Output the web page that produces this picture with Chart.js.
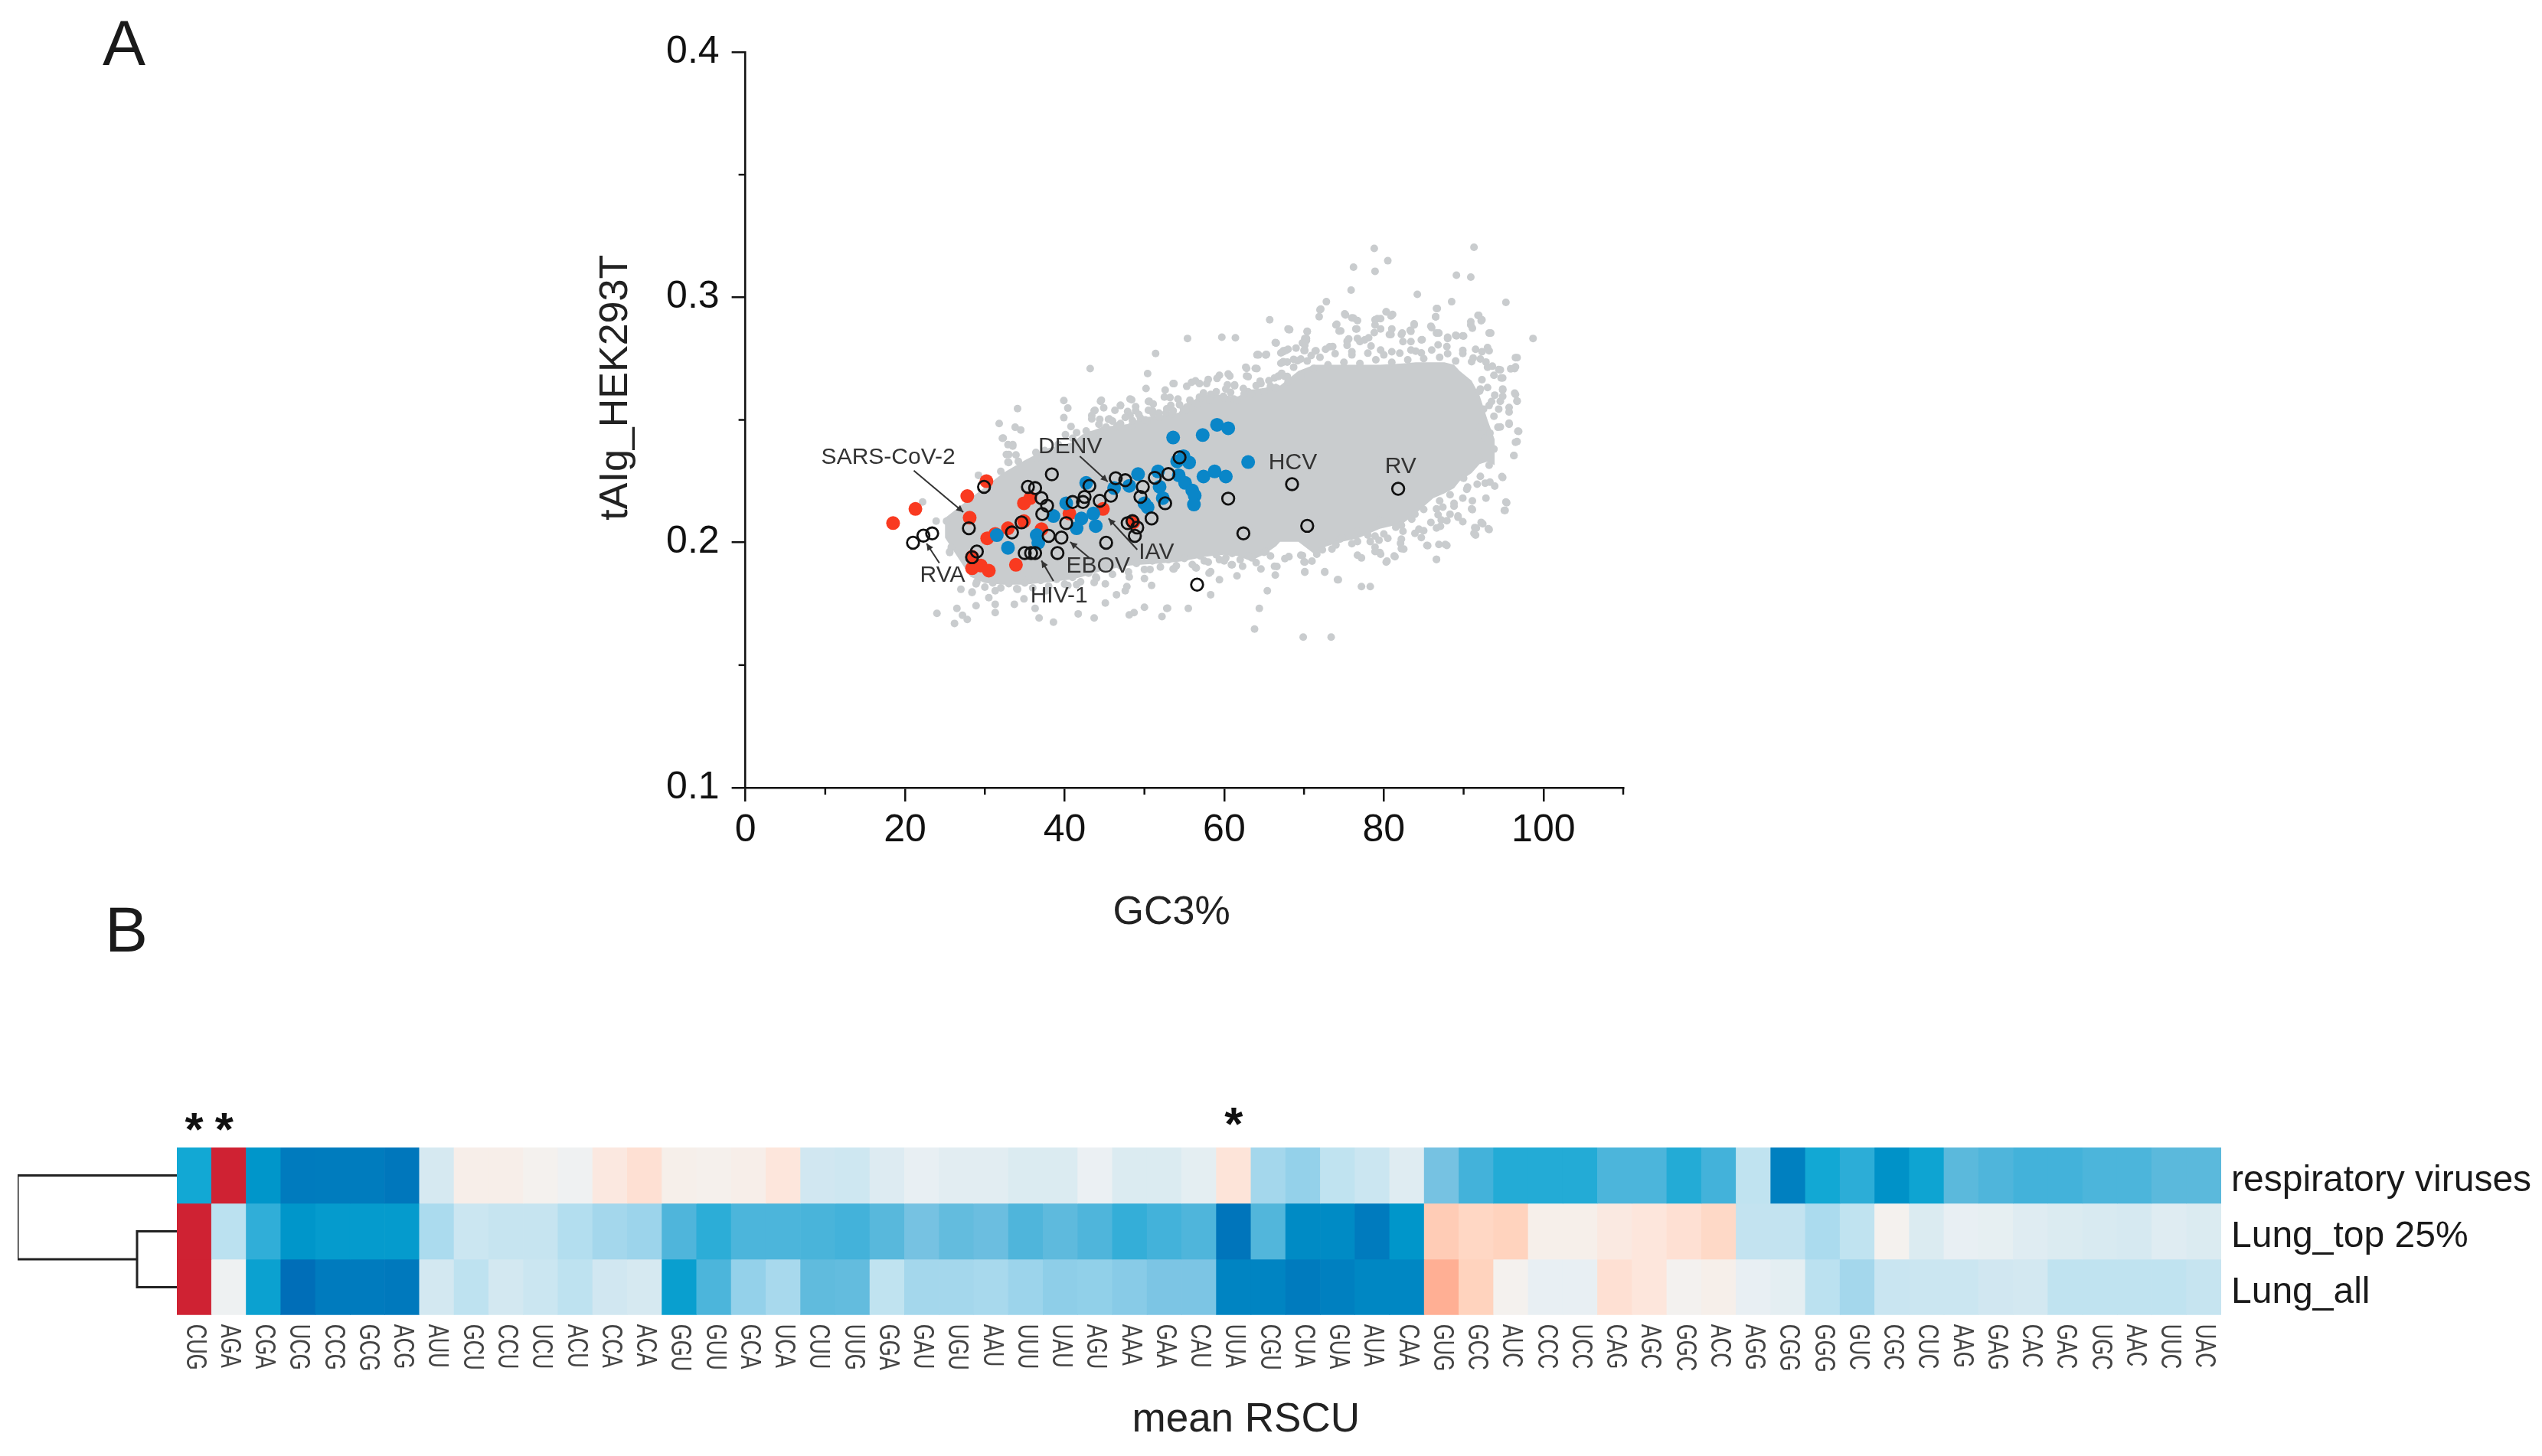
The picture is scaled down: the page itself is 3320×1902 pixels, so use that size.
<!DOCTYPE html>
<html>
<head>
<meta charset="utf-8">
<title>tAI and RSCU</title>
<script src="https://cdn.jsdelivr.net/npm/chart.js@4"></script>
<style>
html, body { margin: 0; padding: 0; background: #fff; }
body { position: relative; width: 3320px; height: 1902px; overflow: hidden; font-family: "Liberation Sans", Arial, sans-serif; color: #1a1a1a; }
canvas { position: absolute; }
.panel { position: absolute; font-size: 84px; line-height: 84px; }
</style>
</head>
<body>
<div class="panel" style="left:134px;top:14px">A</div>
<div class="panel" style="left:137px;top:1172px">B</div>
<canvas id="scatterCanvas" width="1500" height="1200" style="left:740px;top:22px"></canvas>
<canvas id="dendroCanvas" width="231" height="219" style="left:0;top:1499px"></canvas>
<canvas id="heatCanvas" width="3089" height="482" style="left:231px;top:1420px"></canvas>
<script>
const xTicks = [0, 20, 40, 60, 80, 100];
const yTicks = [0.1, 0.2, 0.3, 0.4];
const xMinorTicks = [10, 30, 50, 70, 90, 110];
const yMinorTicks = [0.15, 0.25, 0.35];

// dense part of the human gene cloud, top and bottom edge
const cloudGC = [25, 28.2, 30, 32.3, 35, 38, 41, 42.2, 44.7, 47.9, 49.8, 52, 54.3, 55, 57.5, 58.4, 60, 61.7, 63.3, 65.1, 66.5, 67, 69.3, 71.3, 72.8, 74.7, 76.7, 79.5, 82.4, 84, 86.2, 87.6, 88.8, 89.5, 91, 92, 93, 93.9];
const cloudTop = [.2100, .2181, .2225, .2284, .2335, .2385, .2409, .2440, .2471, .2483, .2510, .2518, .2530, .2565, .2600, .2607, .2600, .2595, .2623, .2630, .2648, .2640, .2700, .2725, .2725, .2725, .2725, .2725, .2730, .2735, .2735, .2735, .2725, .2700, .2660, .2600, .2500, .2420];
const cloudBottom = [.2020, .1860, .1835, .1828, .1828, .1838, .1850, .1860, .1885, .1905, .1910, .1915, .1922, .1925, .1941, .1945, .1950, .1945, .1925, .1953, .1985, .2003, .2003, .1953, .1984, .2003, .2016, .2056, .2078, .2118, .2181, .2200, .2221, .2250, .2283, .2320, .2330, .2315];

// single genes outside the dense part
const grayPoints = [
  [78.8,.3199],[91.3,.3204],[80.5,.3149],[76.2,.3123],[78.9,.3106],[89.1,.3090],[90.9,.3082],[75.9,.3029],[84.2,.3012],[88.5,.2982],
  [95.3,.2979],[72.8,.2982],[86.6,.2954],[72,.2949],[86.5,.2921],[71.9,.2921],[65.7,.2908],[75.1,.2932],[76.2,.2915],[80.3,.2940],
  [80.9,.2924],[79.2,.2913],[78.9,.2887],[83.8,.2887],[91.8,.2926],[92.2,.2904],[90.9,.2887],[74,.2887],[74.4,.2862],[76.5,.2871],
  [68.2,.2868],[70.4,.2860],[86,.2876],[83.3,.2865],[80.9,.2848],[82.2,.2848],[86.6,.2854],[93.2,.2854],[89.1,.2843],[89.9,.2843],
  [98.7,.2832],[88,.2832],[70.1,.2832],[55.4,.2832],[59.7,.2837],[61.4,.2835],[66.4,.2815],[84.7,.2826],[77.6,.2826],[75.4,.2821],
  [70.1,.2804],[96.5,.2754],[96.4,.2709],[94.6,.2704],[94.9,.2671],[96.4,.2609],[96.7,.2576],[94.9,.2626],[95.7,.2551],[95.7,.2487],
  [96.8,.2454],[96.5,.2409],[96.3,.2354],[94.9,.2265],[95.3,.2165],[95.1,.2131],[92.8,.2181],[91,.2137],[92.4,.2076],[91.3,.2037],
  [93.2,.2053],[89.3,.2103],[86.6,.2137],[87.2,.2092],[85.5,.1987],[86.6,.1931],[87.7,.1992],[82.2,.1975],[81.4,.1942],[79.5,.1959],
  [80.3,.1920],[77.2,.1937],[77.2,.1820],[78.3,.1820],[74.2,.1848],[72.6,.1881],[70.1,.1881],[70.1,.1920],[68.1,.1942],[66.3,.1903],
  [64.6,.1892],[65.4,.1803],[64.4,.1731],[63.8,.1647],[69.9,.1614],[73.4,.1614],[61,.1909],[59.4,.1848],[58.3,.1881],[58.3,.1787],
  [55.5,.1731],[52.8,.1731],[52.2,.1698],[50,.1736],[48.7,.1714],[48.1,.1705],[50.9,.1825],[47.6,.1803],[46.5,.1787],[45.1,.1753],
  [45.1,.1831],[43.7,.1692],[41.7,.1709],[38.6,.1675],[36.8,.1692],[36.3,.1731],[33.7,.1748],[34.9,.1770],[31.3,.1714],[31.3,.1748],
  [30.5,.1775],[28.9,.1742],[27.8,.1686],[27.2,.1703],[26.2,.1670],[26.5,.1731],[24,.1711],[28.4,.1798],[27,.1809],[31.3,.1803],
  [34.1,.1809],[35.5,.1848],[28.9,.1831],[25.6,.1959],[25.8,.1981],[53.6,.1892],[56.4,.1898],[50,.1853],[47.8,.1820],[43.2,.2709],
  [51.4,.2771],[50.4,.2689],[50.2,.2628],[53.6,.2648],[34.1,.2546],[31.8,.2485],[33.8,.2470],[34.5,.2459],[39.9,.2579],[40.4,.2548],
  [39.9,.2509],[40.8,.2473],[32.3,.2426],[33.5,.2393],[33,.2359],[33,.2326],[43.7,.2537],[43.4,.2504],[44.5,.2576],[45.6,.2504],
  [47,.2559],[48.4,.2582],[48.9,.2537],[50.6,.2576],[51.1,.2526],[52.5,.2593],[53.3,.2559],[55.3,.2637],[56.4,.2659],[58,.2665],
  [59.4,.2682],[56.9,.2593],[58.3,.2604],[60.5,.2687],[62.7,.2715],[64.1,.2709],[63,.2676],[64.1,.2765],[65.2,.2765],[67.4,.2782],
  [69,.2793],[67.4,.2737],[69.6,.2748],[71.5,.2782],[73.2,.2798],[76.7,.2832],[61.3,.2643],[63,.2615],[60.2,.2626],[64.6,.2648],
  [66.3,.2671],[46.5,.2470],[50.3,.2493],[53.6,.2537],[55.8,.2548],[93.2,.2782],[92.1,.2748],[93,.2715],[93.8,.2682],[89.9,.2771],
  [91,.2737],[94.6,.2576],[93.2,.2559],[92.1,.2626],[93.8,.2515],[94.3,.2470],[92.7,.2426],[93.8,.2381],[91.9,.2348],[93.2,.2315],
  [92.1,.2270],[90.5,.2226],[92.7,.2242],[89.9,.2181],[88.8,.2148],[91.6,.2059],[76.7,.2048],[79.5,.2092],[82.2,.2070],[83.9,.2115],
  [85,.2048],[82.2,.2014],[78.9,.2026],[74.5,.2014],[72.3,.1970],[69.6,.1948],[65.2,.1964],[63.5,.1937],[60.2,.1937],[57.5,.1925],
  [48.1,.1859],[43.7,.1837],[40.4,.1825],[37.7,.1803],[76.7,.1948],[78.9,.1981],[83.9,.2037],[86.6,.2059],[88.3,.2115]
];
// dots hugging the edge of the dense part
const grayEdgePoints = [
  [53.7,.2648],[52.6,.2622],[53.2,.2591],[54.2,.2585],[55.9,.2653],[56.9,.2648],[57.8,.2648],[59.1,.2669],[60.7,.2679],[60.4,.2643],
  [61.3,.2639],[62.8,.2710],[62.8,.2679],[63.9,.2710],[64.2,.2767],[65.3,.2767],[66.5,.2814],[68,.2871],[70.4,.2861],[70.3,.2824],
  [67.4,.2778],[68,.2788],[67.1,.2731],[67.9,.2736],[66.8,.2677],[67.6,.2677],[69.2,.2741],[70.1,.2783],[70.9,.2762],[48.2,.2585],
  [50.5,.2575],[51.1,.2565],[48.9,.2554],[47,.2559],[46.3,.2539],[44.6,.2580],[44.9,.2549],[43.8,.2539],[43.4,.2518],[44.4,.2502],
  [45.5,.2502],[47.9,.2534],[48.2,.2518],[49.5,.2508],[50.5,.2539],[51.8,.2528],[52.7,.2528],[54.9,.2544],[56.9,.2585],[58.5,.2601],
  [59.9,.2596],[61.2,.2585],[62.5,.2606],[64.5,.2658],[65.8,.2637],[41.5,.2448],[40.1,.2440],[33.5,.2399],[32.7,.2359],[33.9,.2357],
  [32.9,.2328],[34.2,.2331],[36.4,.2367],[43.4,.2440],[45,.2461],[46.6,.2476],[48.4,.2476],
  [72.1,.2952],[75.2,.2928],[76,.2916],[76.7,.2905],[74.1,.2890],[74.6,.2863],[76.6,.2871],[68.1,.2868],[70.3,.2832],[69.8,.2814],
  [66.5,.2814],[64.3,.2765],[65.2,.2765],[67.7,.2783],[67.1,.2773],[70,.2783],[71.4,.2781],[72.7,.2788],[73.6,.2799],[67.4,.2736],
  [68.7,.2747],[66.8,.2679],[67.9,.2677],[80.3,.2941],[81.1,.2930],[78.9,.2908],[79.6,.2913],[79.6,.2871],[78.8,.2856],[81,.2871],
  [80.7,.2848],[82.3,.2854],[83.8,.2892],[83.4,.2861],[86.7,.2954],[86.5,.2920],[85.9,.2882],[86.9,.2854],[88,.2837],[89,.2845],
  [90,.2842],[91.9,.2926],[92.3,.2908],[90.9,.2900],[91.1,.2874],[93.4,.2854],[75.6,.2830],[75.4,.2804],[77,.2819],[78.1,.2835],
  [78.4,.2801],[76,.2778],[79.6,.2785],[81,.2778],[82.4,.2819],[83.4,.2819],[84.8,.2827],[83.4,.2785],[84.7,.2773],[86.8,.2806],
  [87.9,.2799],[89.9,.2783],[91.5,.2788],[93,.2795],[92.3,.2778],[91.2,.2752],[92.8,.2736],[93.6,.2719],[94.4,.2705],[96.5,.2716],
  [95.9,.2708],[96.7,.2754],[94.7,.2671],[92.3,.2664],[93,.2632],[94.9,.2622],[96.5,.2604],[96.7,.2577],[93.9,.2601],[94.9,.2596],
  [95.7,.2532],[94.4,.2544],[92.5,.2544],[93.5,.2575],[92,.2617],[94.6,.2471],[95.7,.2482],[96.9,.2453],[93.3,.2446],[92,.2471],
  [96.7,.2412],[96.3,.2355],[94.8,.2269],[93.3,.2246],[93.9,.2230],[95.4,.2162],[95.2,.2131],[91.1,.2134],[91.7,.2238],[91.1,.2170],
  [88.8,.2160],[90.4,.2217],[87.4,.2144],[86.8,.2113],[89.3,.2108],[89.9,.2085],[87.9,.2089],[87.1,.2066],[85.9,.2082],[92.2,.2082],
  [93.1,.2056],[91.4,.2061],[91.5,.2030],[84.4,.2054],[84.7,.2020],[82.4,.2046],[80.5,.2017],[79.4,.2009],[82.1,.1997],[82.5,.1973],
  [85.4,.1988],[86.9,.1992],[87.9,.1988],[86.6,.1931],[81.3,.1945],[80.4,.1924],[79.6,.1952],[78.9,.1963],[78.3,.2004],[76.7,.2004],
  [74.8,.2020],[73.5,.1973],[72.5,.1999],[71.6,.1952],[71,.1924],[69.8,.1947],[70,.1921],[68.1,.1942],[67.6,.1934],[65.8,.1945],
  [66.6,.1902],[66.4,.1867],[70.1,.1879],[72.6,.1879],[74.3,.1848],[61.6,.1864],[62.3,.1903],[60.9,.1909],[59.4,.1930],[58.1,.1875],
  [56.5,.1896],[53.7,.1892],[52.9,.1732],[50.7,.1890],[43.9,.1859],[41.5,.1828],[26.9,.2113],[23.9,.2087],[25.2,.2087],[22.2,.2165],
  [29.2,.2274],[32.2,.2425],[32.9,.2399],[32,.2290],[25.6,.1963],[28.4,.1796],
  [36.5,.2345],[37.5,.2375],[38.3,.2350],[39.2,.2400],[40,.2385],[41,.2425],[41.8,.2405],[42.7,.2455],[43.6,.2440],[44.3,.2482],
  [45.2,.2470],[46,.2495],[47,.2485],[47.6,.2510],[48.5,.2497],[49.3,.2522],[50.1,.2500],[51,.2538],[51.9,.2510],[52.8,.2545],
  [53.5,.2525],[54.4,.2562],[55.2,.2540],[55.7,.2580],[56.6,.2565],[57.4,.2610],[58.2,.2580],[59,.2615],[60,.2590],[60.8,.2612],
  [61.6,.2580],[62.4,.2628],[63.4,.2605],[64,.2640],[65,.2615],[65.6,.2660],[66.4,.2630],[67.2,.2690],[68,.2655],[68.7,.2715],
  [69.6,.2680],[70.4,.2740],[71.2,.2710],[72,.2755],[73,.2725],[73.9,.2770],[75,.2735],[76,.2765],[77,.2730],[78,.2772],
  [79,.2745],[80,.2765],[81,.2735],[82,.2772],[83,.2745],[84,.2780],[85,.2750],[86,.2785],[87,.2755],[88,.2770],[89,.2740],
  [29,.1840],[30,.1818],[31,.1835],[32,.1815],[33,.1832],[34,.1812],[35,.1835],[36,.1815],[37,.1845],[38,.1822],
  [39,.1850],[40,.1830],[41,.1858],[42,.1840],[43,.1875],[44,.1855],[45,.1895],[46,.1870],[47,.1905],[48,.1880],
  [49,.1915],[50,.1890],[51,.1925],[52,.1900],[53,.1930],[54,.1905],[55,.1935],[56,.1910],[57,.1945],[58,.1920],
  [59,.1950],[60,.1925],[61,.1955],[62,.1930],[63,.1945],[64,.1918],[65,.1960],
  [90,.2262],[88.3,.2195],[87,.2170],[85,.2135],[83.5,.2095],[81.5,.2062],[80,.2035],[78,.2030],[76,.1995],[74,.1990]
];
const redPoints = [
  [18.5,.2079],[21.3,.2137],[30.2,.2250],[27.8,.2189],[28.1,.2101],[35.7,.2181],[34.9,.2160],[34.9,.2087],[32.9,.2058],[31.3,.2035],
  [30.3,.2017],[37.1,.2054],[28.4,.1942],[28.4,.1895],[29.5,.1906],[30.5,.1885],[33.9,.1909],[40.6,.2118],[44.8,.2137],[48.6,.2082]
];
const bluePoints = [
  [59.1,.2480],[60.5,.2466],[57.3,.2438],[53.6,.2428],[63,.2328],[55.6,.2326],[54.1,.2331],[54.9,.2352],[51.7,.2290],[49.2,.2279],
  [48.1,.2231],[46.2,.2222],[42.7,.2243],[51.9,.2227],[52.3,.2181],[50,.2160],[50.4,.2144],[54.3,.2274],[55.1,.2243],[56,.2212],
  [56.3,.2191],[56.2,.2155],[57.4,.2269],[58.8,.2290],[60.2,.2269],[40.2,.2160],[38.6,.2108],[42.1,.2098],[43.6,.2118],[41.5,.2058],
  [43.9,.2067],[36.5,.2030],[36.7,.1999],[31.5,.2030],[32.9,.1978]
];
const openPoints = [
  [38.4,.2278],[29.9,.2227],[35.4,.2227],[36.3,.2222],[37.1,.2181],[37.8,.2150],[37.2,.2116],[40.2,.2079],[34.6,.2082],[33.4,.2041],
  [28,.2058],[23.4,.2037],[22.3,.2028],[21,.1999],[38,.2027],[39.6,.2020],[29,.1963],[28.4,.1940],[35,.1957],[35.8,.1957],
  [36.3,.1957],[39.1,.1957],[45.2,.1999],[43.1,.2231],[42.5,.2186],[42.3,.2165],[44.4,.2170],[45.8,.2191],[46.4,.2262],[47.6,.2254],
  [49.8,.2227],[49.5,.2186],[52.6,.2160],[51.3,.2264],[53,.2279],[54.4,.2347],[60.5,.2179],[68.5,.2238],[62.4,.2037],[50.9,.2098],
  [47.9,.2079],[49.1,.2061],[48.8,.2027],[56.6,.1828],[48.5,.2087],[41,.2165],[81.8,.2219],[70.4,.2068]
];

// virus names and their arrows, in axis units
const virusLabels = [
  ['SARS-CoV-2', 17.9, .2347], ['DENV', 40.7, .2389], ['HCV', 68.6, .2326], ['RV', 82.1, .2308],
  ['RVA', 24.7, .1867], ['EBOV', 44.2, .1903], ['IAV', 51.5, .1960], ['HIV-1', 39.3, .1782]
];
const virusArrows = [
  [21.1, .2293, 27.3, .2124], [41.9, .2352, 45.4, .2248], [24.3, .1916, 22.7, .1996],
  [43.1, .1937, 40.7, .2002], [49.1, .1971, 45.5, .2098], [38.6, .1843, 37.1, .1926]
];

const codons = ['CUG','AGA','CGA','UCG','CCG','GCG','ACG','AUU','GCU','CCU','UCU','ACU','CCA','ACA','GGU','GUU','GCA','UCA','CUU','UUG',
  'GGA','GAU','UGU','AAU','UUU','UAU','AGU','AAA','GAA','CAU','UUA','CGU','CUA','GUA','AUA','CAA','GUG','GCC','AUC','CCC',
  'UCC','CAG','AGC','GGC','ACC','AGG','CGG','GGG','GUC','CGC','CUC','AAG','GAG','CAC','GAC','UGC','AAC','UUC','UAC'];
const starCodons = ['CUG', 'AGA', 'UUA'];
const rowNames = ['respiratory viruses', 'Lung_top 25%', 'Lung_all'];

// colour level of each cell, 0 is the darkest blue and 15 the red
const respiratory = [3,15,2,.7,.8,.8,.5,9,11.3,11.3,11,10.3,11.8,12.3,11.2,11.1,11.3,12,8.8,8.7,
  9.3,9.8,9.5,9.5,9.2,9.2,9.9,9.2,9.2,9.6,12.1,7.4,7,8.2,8.6,9.4,6,4.2,3.4,3.4,
  3.4,4.5,4.5,3.4,4.2,8.2,1,3,3.6,1.8,2.8,5,4.6,4.2,4.2,4.5,4.5,5,5];
const lungTop = [15,8,3.7,2,2.3,2.3,2.3,7.6,8.6,8.4,8.4,7.8,7.4,7.2,4.6,3.6,4.5,4.5,4.4,4.2,
  4.9,6,5.3,5.6,4.6,5.1,4.6,3.8,4.2,4.6,.4,4.7,1.5,1.5,.7,2,13.2,12.8,13,11.2,
  11.2,11.7,12,12.3,12.7,8.3,8.3,7.6,8.2,11,9.2,9.8,9.7,9.4,9.2,9.1,9,9.4,9.2];
const lungAll = [15,10.2,2.6,0,.7,.7,.6,8.9,8.1,8.9,8.6,8.1,8.8,9,2.5,4.5,7,7.5,5.2,5.3,
  8.2,7.4,7.4,7.5,7.2,6.8,6.9,6.6,6.2,6.2,1.2,1.2,.7,1,1.3,1.3,14,13,11,9.8,
  9.8,12.3,12,10.8,11.2,9.8,9.6,8,7.4,8.5,8.6,8.6,8.8,8.9,8.2,8.2,8.2,8.2,8.4];
const heatPalette = ['#006EB8','#0080C0','#0096CA','#12A8D4','#3DB0D9','#5BB9DC','#76C2E2','#94D1EA','#BBE1F0','#D6E9F1',
  '#EDF1F3','#F4F1EE','#FDE6DC','#FFD3BE','#FFAF94','#CF2233'];

// dendrogram brackets: height, row position
const treeUpper = [[0,.5],[1,.5],[1,2],[.25,2]];
const treeLower = [[0,1.5],[.25,1.5],[.25,2.5],[0,2.5]];

Chart.defaults.font.family = '"Liberation Sans", Arial, sans-serif';
Chart.defaults.devicePixelRatio = 1;
Chart.defaults.animation = false;

const toXY = p => ({ x: p[0], y: p[1] });
const dotSet = (points, color, radius, order) => ({
  data: points.map(toXY), pointRadius: radius, pointBackgroundColor: color, pointBorderWidth: 0, showLine: false, order: order
});

const scatterNotes = {
  id: 'scatterNotes',
  afterDraw(chart) {
    const ctx = chart.ctx, sx = chart.scales.x, sy = chart.scales.y;
    ctx.save();
    // minor ticks
    ctx.strokeStyle = '#111';
    ctx.lineWidth = 2.5;
    xMinorTicks.forEach(v => {
      const px = sx.getPixelForValue(v);
      ctx.beginPath(); ctx.moveTo(px, sy.bottom); ctx.lineTo(px, sy.bottom + 9); ctx.stroke();
    });
    yMinorTicks.forEach(v => {
      const py = sy.getPixelForValue(v);
      ctx.beginPath(); ctx.moveTo(sx.left, py); ctx.lineTo(sx.left - 9, py); ctx.stroke();
    });
    // arrows
    ctx.strokeStyle = '#333';
    ctx.fillStyle = '#333';
    ctx.lineWidth = 2;
    virusArrows.forEach(a => {
      const x1 = sx.getPixelForValue(a[0]), y1 = sy.getPixelForValue(a[1]);
      const x2 = sx.getPixelForValue(a[2]), y2 = sy.getPixelForValue(a[3]);
      const t = Math.atan2(y2 - y1, x2 - x1);
      ctx.beginPath(); ctx.moveTo(x1, y1); ctx.lineTo(x2, y2); ctx.stroke();
      ctx.beginPath(); ctx.moveTo(x2, y2);
      ctx.lineTo(x2 - 10 * Math.cos(t - .45), y2 - 10 * Math.sin(t - .45));
      ctx.lineTo(x2 - 10 * Math.cos(t + .45), y2 - 10 * Math.sin(t + .45));
      ctx.closePath(); ctx.fill();
    });
    // names
    ctx.textAlign = 'center';
    ctx.textBaseline = 'middle';
    ctx.font = '30px "Liberation Sans"';
    ctx.fillStyle = '#333';
    virusLabels.forEach(l => ctx.fillText(l[0], sx.getPixelForValue(l[1]), sy.getPixelForValue(l[2])));
    // axis titles
    ctx.font = '52px "Liberation Sans"';
    ctx.fillStyle = '#222';
    ctx.fillText('GC3%', sx.getPixelForValue(53.4), 1171);
    ctx.translate(65, sy.getPixelForValue(0.2632));
    ctx.rotate(-Math.PI / 2);
    ctx.fillText('tAIg_HEK293T', 0, 0);
    ctx.restore();
  }
};

new Chart(document.getElementById('scatterCanvas'), {
  type: 'scatter',
  plugins: [scatterNotes],
  data: {
    datasets: [
      { data: openPoints.map(toXY), pointRadius: 7.8, pointBackgroundColor: 'rgba(0,0,0,0)', pointBorderColor: '#111', pointBorderWidth: 2.8, showLine: false, order: 1 },
      dotSet(bluePoints, '#0A86C8', 9, 2),
      dotSet(redPoints, '#F93A20', 9, 3),
      dotSet(grayPoints.concat(grayEdgePoints), '#C9CCCE', 5, 4),
      { data: cloudGC.map((g, i) => ({ x: g, y: cloudTop[i] })), showLine: true, pointRadius: 0, borderWidth: 0, borderColor: '#C9CCCE', backgroundColor: '#C9CCCE', fill: '+1', order: 5 },
      { data: cloudGC.map((g, i) => ({ x: g, y: cloudBottom[i] })), showLine: true, pointRadius: 0, borderWidth: 0, borderColor: '#C9CCCE', order: 6 }
    ]
  },
  options: {
    responsive: false,
    events: [],
    layout: { padding: { top: 36, right: 120 } },
    plugins: { legend: { display: false }, tooltip: { enabled: false } },
    scales: {
      x: {
        type: 'linear', min: 0, max: 110,
        afterBuildTicks: s => { s.ticks = xTicks.map(v => ({ value: v })); },
        afterFit: s => { s.height = 193; },
        border: { color: '#111', width: 2.5 },
        grid: { drawOnChartArea: false, color: '#111', lineWidth: 2.5, tickLength: 18 },
        ticks: { color: '#111', font: { size: 50 }, padding: 8, maxRotation: 0 }
      },
      y: {
        min: 0.1, max: 0.4,
        afterBuildTicks: s => { s.ticks = yTicks.map(v => ({ value: v })); },
        afterFit: s => { s.width = 233.6; },
        border: { color: '#111', width: 2.5 },
        grid: { drawOnChartArea: false, color: '#111', lineWidth: 2.5, tickLength: 18 },
        ticks: { color: '#111', font: { size: 50 }, padding: 16, callback: v => v.toFixed(1) }
      }
    }
  }
});

new Chart(document.getElementById('dendroCanvas'), {
  type: 'scatter',
  data: {
    datasets: [treeUpper, treeLower].map(b => ({
      data: b.map(toXY), showLine: true, pointRadius: 0, borderColor: '#222', borderWidth: 3, tension: 0
    }))
  },
  options: {
    responsive: false,
    events: [],
    layout: { padding: { left: 23 } },
    plugins: { legend: { display: false }, tooltip: { enabled: false } },
    scales: {
      x: { type: 'linear', display: false, reverse: true, min: 0, max: 1 },
      y: { type: 'linear', display: false, reverse: true, min: 0, max: 3 }
    }
  }
});

function cellColor(level) {
  if (level >= 15) return heatPalette[15];
  const i = Math.floor(level), t = level - i;
  const a = parseInt(heatPalette[i].slice(1), 16), b = parseInt(heatPalette[i + 1].slice(1), 16);
  const mix = s => Math.round(((a >> s) & 255) * (1 - t) + ((b >> s) & 255) * t);
  return 'rgb(' + mix(16) + ',' + mix(8) + ',' + mix(0) + ')';
}

const heatNotes = {
  id: 'heatNotes',
  afterDraw(chart) {
    const ctx = chart.ctx, sx = chart.scales.x, top = chart.chartArea.top, bottom = chart.chartArea.bottom;
    ctx.save();
    // codon names read downwards and are narrow in the original
    ctx.fillStyle = '#444';
    ctx.font = '36px "Liberation Sans"';
    ctx.textAlign = 'left';
    ctx.textBaseline = 'middle';
    codons.forEach(c => {
      ctx.save();
      ctx.translate(sx.getPixelForValue(c), bottom + 12);
      ctx.rotate(Math.PI / 2);
      ctx.scale(.75, 1);
      ctx.fillText(c, 0, 0);
      ctx.restore();
    });
    ctx.fillStyle = '#111';
    ctx.font = 'bold 62px "Liberation Sans"';
    ctx.textAlign = 'center';
    ctx.textBaseline = 'alphabetic';
    starCodons.forEach(c => {
      const px = sx.getPixelForValue(c) - (c === 'AGA' ? 6 : 0);
      ctx.fillText('*', px, c === 'UUA' ? top - 10 : top - 3);
    });
    ctx.font = '53px "Liberation Sans"';
    ctx.fillStyle = '#222';
    ctx.textBaseline = 'middle';
    ctx.fillText('mean RSCU', sx.getPixelForValue('UUA') + 16, 435);
    ctx.restore();
  }
};

new Chart(document.getElementById('heatCanvas'), {
  type: 'bar',
  plugins: [heatNotes],
  data: {
    labels: codons,
    datasets: [respiratory, lungTop, lungAll].map((row, i) => ({
      label: rowNames[i],
      data: row.map(() => 1),
      backgroundColor: row.map(cellColor),
      borderWidth: 0,
      barPercentage: 1,
      categoryPercentage: 1
    }))
  },
  options: {
    responsive: false,
    events: [],
    layout: { padding: { top: 79 } },
    plugins: { legend: { display: false }, tooltip: { enabled: false } },
    scales: {
      x: {
        stacked: true,
        afterFit: s => { s.height = 184.3; },
        border: { display: false },
        grid: { display: false },
        ticks: { display: false }
      },
      y: {
        stacked: true, reverse: true, position: 'right', min: 0, max: 3,
        // labels sit a little under the middle of their row
        afterBuildTicks: s => { s.ticks = rowNames.map((n, i) => ({ value: i + .6 })); },
        afterFit: s => { s.width = 419; },
        border: { display: false },
        grid: { display: false, drawTicks: false },
        ticks: { color: '#1a1a1a', font: { size: 48 }, padding: 13, callback: v => rowNames[Math.floor(v)] }
      }
    }
  }
});
</script>
</body>
</html>
